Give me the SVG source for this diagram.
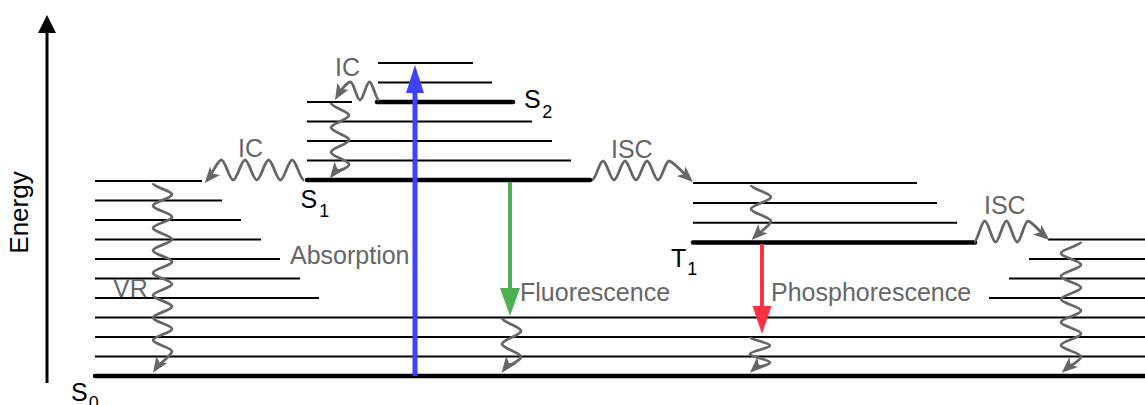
<svg xmlns="http://www.w3.org/2000/svg" width="1145" height="405" viewBox="0 0 1145 405">
<style>
.thin{stroke:#000;stroke-width:2;fill:none}
.thick{stroke:#000;stroke-width:4.5;fill:none;stroke-linecap:round}
.wave{stroke:#666;stroke-width:2.8;fill:none;marker-end:url(#grayhead)}
.lbl{font-family:"Liberation Sans",Arial,sans-serif;font-size:25px;fill:#666}
.st{font-family:"Liberation Sans",Arial,sans-serif;font-size:25px;fill:#000}
.sub{font-size:18px}
</style>
<defs>
<marker id="grayhead" markerUnits="userSpaceOnUse" viewBox="-14 -8 20 16" refX="0" refY="0" markerWidth="20" markerHeight="16" orient="auto">
<path d="M4,0 L-12,-6.5 L-8,0 L-12,6.5 Z" fill="#666"/>
</marker>
<marker id="bluehead" markerUnits="userSpaceOnUse" viewBox="0 -10 30 20" refX="0" refY="0" markerWidth="30" markerHeight="20" orient="auto">
<path d="M0,-9 L28,0 L0,9 Z" fill="#4040ff"/>
</marker>
<marker id="greenhead" markerUnits="userSpaceOnUse" viewBox="0 -11 30 22" refX="0" refY="0" markerWidth="30" markerHeight="22" orient="auto">
<path d="M0,-10 L28,0 L0,10 Z" fill="#4caf50"/>
</marker>
<marker id="redhead" markerUnits="userSpaceOnUse" viewBox="0 -11 30 22" refX="0" refY="0" markerWidth="30" markerHeight="22" orient="auto">
<path d="M0,-9.5 L28,0 L0,9.5 Z" fill="#ff3040"/>
</marker>
</defs>
<rect width="1145" height="405" fill="#fff"/>

<g id="axis">
<path d="M47,383 V32" stroke="#000" stroke-width="3" fill="none"/>
<path d="M38,33 L47,15 L56,33 Z" fill="#000"/>
<text class="st" style="font-size:26px" transform="translate(27.5,212.5) rotate(-90)" text-anchor="middle">Energy</text>
</g>

<g id="S0">
<path class="thin" d="M95,181H202 M95,200.5H222 M95,220H241 M95,239.5H261 M95,259H280 M95,278.5H300 M95,298H319 M95,317.5H1150 M95,337H1150 M95,356.5H1150 M1048,239.5H1150 M1029,259H1150 M1009,278.5H1150 M989,298H1150"/>
<path class="thick" d="M95,376H1150"/>
<text class="st" x="71" y="401">S<tspan class="sub" dx="1" dy="8">0</tspan></text>
</g>

<g id="S1">
<path class="thin" d="M307,160.5H571 M307,141H552 M307,121.5H532 M307,102H352"/>
<path class="thick" d="M307,180H590"/>
<text class="st" x="300.5" y="208">S<tspan class="sub" dx="2" dy="8.5">1</tspan></text>
</g>

<g id="S2">
<path class="thin" d="M378,82.5H492 M378,63H473"/>
<path class="thick" d="M377,102H513"/>
<text class="st" x="524" y="108.3">S<tspan class="sub" dx="1.5" dy="10">2</tspan></text>
</g>

<g id="T1">
<path class="thin" d="M693,222.7H957 M693,202.9H937 M693,183H917"/>
<path class="thick" d="M693,242.5H975"/>
<text class="st" x="671" y="266.5">T<tspan class="sub" dx="1" dy="8.5">1</tspan></text>
</g>

<g id="connectors">
<path d="M415,376 V93" stroke="#4040ff" stroke-width="5" fill="none" marker-end="url(#bluehead)"/>
<path d="M510,182 V288" stroke="#4caf50" stroke-width="4" fill="none" marker-end="url(#greenhead)"/>
<path d="M762,244 V306" stroke="#ff3040" stroke-width="4" fill="none" marker-end="url(#redhead)"/>

<path class="wave" d="M379,100 c-3.17,0 -6.33,-18 -9.5,-18 s-6.33,18 -9.5,18 s-6.33,-18 -9.5,-18 s-10,8.5 -13.5,14.5"/>
<path class="wave" d="M304,180 c-3.93,0 -7.87,-20 -11.8,-20 s-7.870,20 -11.8,20 s-7.87,-20 -11.8,-20 s-7.87,20 -11.8,20 s-7.87,-20 -11.8,-20 s-7.87,20 -11.8,20 s-7.87,-20 -11.8,-20 s-9,14 -14,20"/>
<path class="wave" d="M592,180 c3.67,0 7.33,-19 11,-19 s7.33,19 11,19 s7.33,-19 11,-19 s7.33,19 11,19 s7.33,-19 11,-19 s7.33,19 11,19 s7.33,-19 11,-19 s15.8,13.6 21,18.3"/>
<path class="wave" d="M974,242 c3.6,0 7.2,-21 10.8,-21 s7.2,21 10.8,21 s7.2,-21 10.8,-21 s7.2,21 10.8,21 s7.2,-21 10.8,-21 s13.7,12.5 18.3,16.4"/>

<path class="wave" d="M331,103 c0,4.1 18,8.2 18,12.3 s-18,8.2 -18,12.3 s18,8.2 18,12.3 s-18,8.2 -18,12.3 s18,8.2 18,12.3 s-13,5.9 -16.6,10.6"/>
<path class="wave" d="M153,183.3 c0,3.73 19,7.47 19,11.2 s-19,7.47 -19,11.2 s19,7.47 19,11.2 s-19,7.47 -19,11.2 s19,7.47 19,11.2 s-19,7.47 -19,11.2 s19,7.47 19,11.2 s-19,7.47 -19,11.2 s19,7.47 19,11.2 s-19,7.47 -19,11.2 s19,7.47 19,11.2 s-19,7.47 -19,11.2 s19,7.47 19,11.2 s-19,7.47 -19,11.2 s19,7.47 19,11.2 s-13.5,13.2 -16.8,18.2"/>
<path class="wave" d="M502,318 c0,4.33 19,8.67 19,13 s-19,8.67 -19,13 s19,8.67 19,13 s-13.3,7.7 -16.9,12.5"/>
<path class="wave" d="M750,337 c0,2.83 20,5.67 20,8.5 s-20,5.67 -20,8.5 s20,5.67 20,8.5 s-13.5,4.1 -17.1,7.5"/>
<path class="wave" d="M751,185 c0,4 20,8 20,12 s-20,8 -20,12 s20,8 20,12 s-12.3,12 -16.5,16.2"/>
<path class="wave" d="M1081,241.7 c0,3.83 -20,7.67 -20,11.5 s20,7.67 20,11.5 s-20,7.670 -20,11.5 s20,7.67 20,11.5 s-20,7.67 -20,11.5 s20,7.67 20,11.5 s-20,7.67 -20,11.5 s20,7.67 20,11.5 s-20,7.67 -20,11.5 s20,7.67 20,11.5 s-11.8,9.4 -16.3,13.4"/>

<text class="lbl" x="335" y="76">IC</text>
<text class="lbl" x="238" y="157">IC</text>
<text class="lbl" x="611" y="158">ISC</text>
<text class="lbl" x="984" y="214">ISC</text>
<text class="lbl" x="113" y="297">VR</text>
<text class="lbl" x="290" y="264">Absorption</text>
<text class="lbl" x="520" y="301">Fluorescence</text>
<text class="lbl" x="771" y="300.5">Phosphorescence</text>
</g>
</svg>
